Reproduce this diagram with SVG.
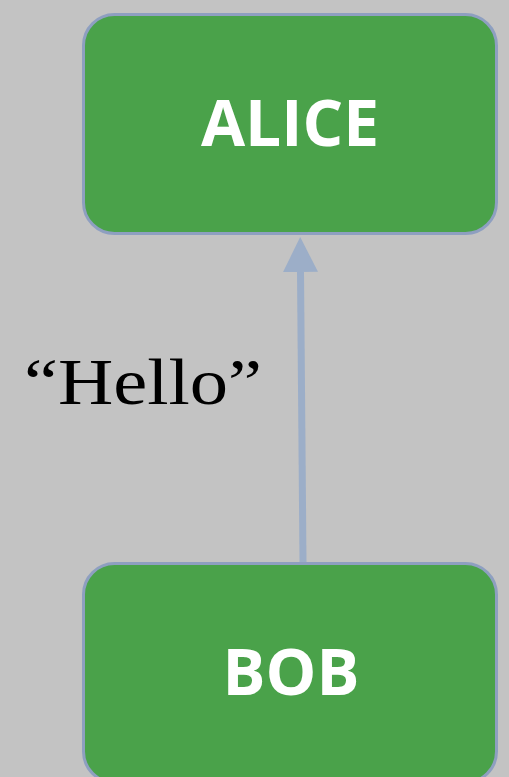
<svg xmlns="http://www.w3.org/2000/svg" width="509" height="777" viewBox="0 0 509 777">
<style>
.node rect{fill:#4aa24a;stroke:#8e9fc0;stroke-width:3}
.node text{fill:#ffffff;font-family:"Open Sans","Liberation Sans",sans-serif;font-weight:bold;font-size:64px;text-anchor:middle}
.edge{stroke:#9caec8;stroke-width:7;fill:none}
.lbl{font-family:"Liberation Serif",serif;font-size:66px;fill:#000}
</style>
<defs>
<marker id="ah" viewBox="0 0 10 10" refX="0" refY="5" markerWidth="5" markerHeight="5" orient="auto" markerUnits="strokeWidth">
<path d="M0,0 L10,5 L0,10 z" fill="#9caec8"/>
</marker>
</defs>
<rect width="509" height="777" fill="#c3c3c3"/>
<g id="connectors">
<line class="edge" x1="303" y1="562" x2="300.5" y2="272" marker-end="url(#ah)"/>
<text class="lbl" x="24" y="404" textLength="238" lengthAdjust="spacingAndGlyphs">“Hello”</text>
</g>
<g id="alice" class="node">
<rect x="83.5" y="14.5" width="413" height="219" rx="31"/>
<text x="290" y="146">ALICE</text>
</g>
<g id="bob" class="node">
<rect x="83.5" y="563.5" width="413" height="219" rx="31"/>
<text x="291" y="695">BOB</text>
</g>
</svg>
